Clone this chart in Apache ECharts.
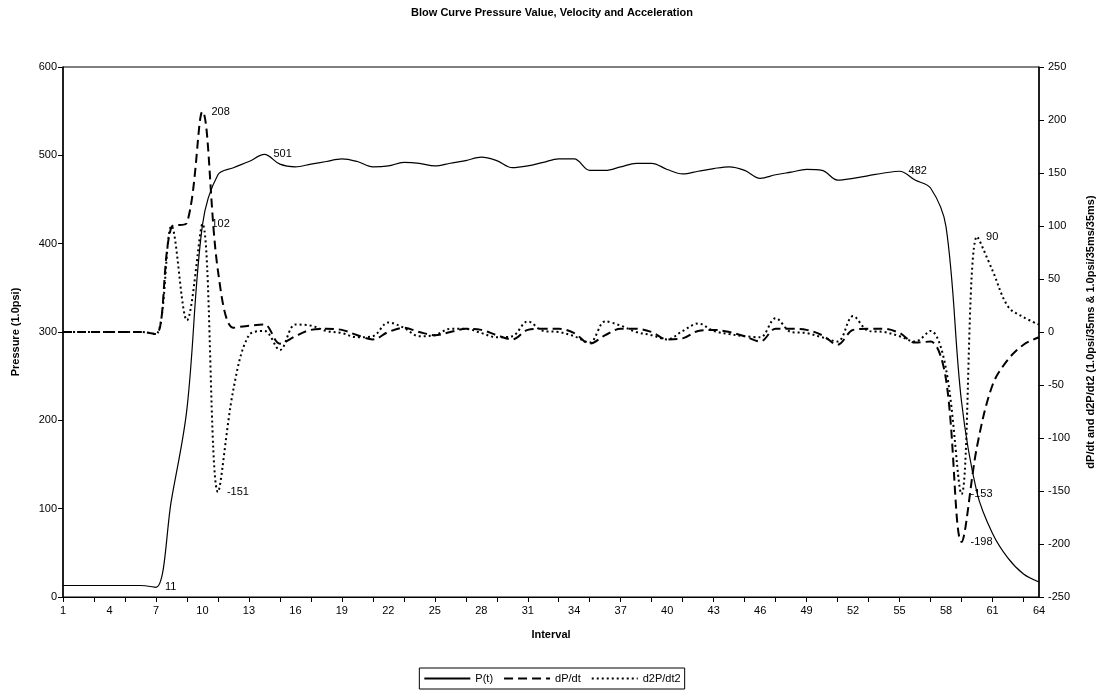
<!DOCTYPE html>
<html>
<head>
<meta charset="utf-8">
<script src="https://cdn.jsdelivr.net/npm/echarts@6/dist/echarts.min.js"></script>
<style>
  html, body { margin: 0; padding: 0; background: #fff; }
  #chart { width: 1104px; height: 694px; }
</style>
</head>
<body>
<div id="chart"></div>
<script>
// Interval numbers 1..64
const intervals = [];
for (let i = 1; i <= 64; i++) intervals.push(String(i));

// Pressure P(t), 1.0 psi
const pressure = [13, 13, 13, 13, 13, 13, 11, 110, 213, 421,
  478, 486, 493, 501, 490, 487, 490, 493, 496, 493,
  487, 488, 492, 491, 488, 491, 494, 498, 494, 486,
  488, 492, 496, 496, 483, 483, 487, 491, 491, 484,
  479, 482, 485, 487, 483, 474, 478, 481, 484, 483,
  472, 474, 477, 480, 482, 472, 463, 419, 221, 118,
  72, 44, 26, 17];

// Velocity dP/dt, 1.0 psi / 35 ms
const velocity = [0, 0, 0, 0, 0, 0, -2, 99, 103, 208,
  58, 4, 6, 7, -11, -4, 2, 3, 2, -3,
  -7, 0, 4, 0, -3, 0, 3, 2, -3, -7,
  2, 3, 3, -1, -11, -3, 3, 3, 0, -7,
  -6, 1, 2, 0, -4, -9, 3, 3, 2, -3,
  -12, 2, 3, 3, -1, -10, -9, -45, -198, -108,
  -50, -26, -12, -5];

// Acceleration d2P/dt2, 1.0 psi / 35 ms / 35 ms
const acceleration = [0, 0, 0, 0, 0, 0, -2, 100, 11, 102,
  -151, -54, -3, 1, -17, 7, 6, 1, -1, -5,
  -4, 9, 4, -4, -3, 3, 3, -1, -5, -4,
  10, 1, 0, -4, -10, 10, 6, 0, -3, -7,
  1, 8, 1, -2, -4, -5, 13, 0, -1, -5,
  -9, 15, 1, 0, -4, -9, 1, -35, -153, 90,
  58, 24, 14, 7];

// Indices (0-based) of points whose value is printed beside the line
const pressureLabelled = [6, 13, 54];
const velocityLabelled = [9, 58];
const accelerationLabelled = [9, 10, 58, 59];

const FONT = '"Liberation Sans", Arial, sans-serif';

// Unlabelled points carry no symbol; labelled ones get a transparent anchor
// so the value text can sit to the right of the curve.
function withLabels(values, labelled) {
  return values.map((v, i) => labelled.includes(i)
    ? {
        value: v,
        symbol: 'circle',
        symbolSize: 2,
        itemStyle: { color: 'rgba(0,0,0,0)', borderWidth: 0 },
        label: { show: true, position: 'right', distance: 8, fontSize: 11, color: '#000', fontFamily: FONT }
      }
    : { value: v, symbol: 'none' });
}

const chart = echarts.init(document.getElementById('chart'), null, { renderer: 'canvas' });

const lineBase = {
  type: 'line',
  smooth: 0.35,
  symbol: 'circle',
  symbolSize: 2,
  showSymbol: true,
  showAllSymbol: true,
  color: '#000',
  labelLayout: { hideOverlap: false }
};

chart.setOption({
  backgroundColor: '#ffffff',
  animation: false,
  textStyle: { fontFamily: FONT, color: '#000' },
  title: {
    text: 'Blow Curve Pressure Value, Velocity and Acceleration',
    left: 'center',
    top: 2,
    textStyle: { fontFamily: FONT, fontSize: 11, fontWeight: 'bold', color: '#000' }
  },
  legend: {
    bottom: 5,
    left: 'center',
    itemWidth: 46,
    itemHeight: 10,
    itemGap: 10,
    padding: [5, 4, 5, 4],
    borderColor: '#000',
    borderWidth: 1,
    borderRadius: 0,
    itemStyle: { opacity: 0 },
    textStyle: { fontFamily: FONT, fontSize: 11, color: '#000' },
    data: ['P(t)', 'dP/dt', 'd2P/dt2']
  },
  grid: {
    left: 63, right: 61, top: 67, bottom: 97,
    show: true, borderColor: '#000', borderWidth: 1
  },
  xAxis: {
    type: 'category',
    data: intervals,
    boundaryGap: false,
    name: 'Interval',
    nameLocation: 'middle',
    nameGap: 32,
    nameTextStyle: { fontFamily: FONT, fontSize: 11, fontWeight: 'bold', color: '#000' },
    axisLine: { lineStyle: { color: '#000', width: 1 } },
    axisTick: { show: true, interval: 1, length: 5, lineStyle: { color: '#000' } },
    axisLabel: { interval: 2, fontSize: 11, color: '#000', fontFamily: FONT, margin: 8 },
    splitLine: { show: false }
  },
  yAxis: [
    {
      type: 'value',
      min: 0, max: 600, interval: 100,
      name: 'Pressure (1.0psi)',
      nameLocation: 'middle',
      nameGap: 42,
      nameTextStyle: { fontFamily: FONT, fontSize: 11, fontWeight: 'bold', color: '#000' },
      axisLine: { show: true, lineStyle: { color: '#000', width: 1.5 } },
      axisTick: { show: true, length: 5, lineStyle: { color: '#000' } },
      axisLabel: { fontSize: 11, color: '#000', fontFamily: FONT, margin: 6 },
      splitLine: { show: false }
    },
    {
      type: 'value',
      min: -250, max: 250, interval: 50,
      position: 'right',
      name: 'dP/dt and d2P/dt2 (1.0psi/35ms & 1.0psi/35ms/35ms)',
      nameLocation: 'middle',
      nameGap: 46,
      nameRotate: 90,
      nameTextStyle: { fontFamily: FONT, fontSize: 11, fontWeight: 'bold', color: '#000' },
      axisLine: { show: true, lineStyle: { color: '#000', width: 1.5 } },
      axisTick: { show: true, length: 5, lineStyle: { color: '#000' } },
      axisLabel: { fontSize: 11, color: '#000', fontFamily: FONT, margin: 9 },
      splitLine: { show: false }
    }
  ],
  series: [
    Object.assign({}, lineBase, {
      name: 'P(t)',
      yAxisIndex: 0,
      lineStyle: { color: '#000', width: 1.2, type: 'solid' },
      data: withLabels(pressure, pressureLabelled),
      z: 3
    }),
    Object.assign({}, lineBase, {
      name: 'dP/dt',
      yAxisIndex: 1,
      lineStyle: { color: '#000', width: 2, type: [9, 5] },
      data: withLabels(velocity, velocityLabelled),
      z: 2
    }),
    Object.assign({}, lineBase, {
      name: 'd2P/dt2',
      yAxisIndex: 1,
      lineStyle: { color: '#000', width: 2, type: [2, 3] },
      data: withLabels(acceleration, accelerationLabelled),
      z: 2
    })
  ]
});
</script>
</body>
</html>
